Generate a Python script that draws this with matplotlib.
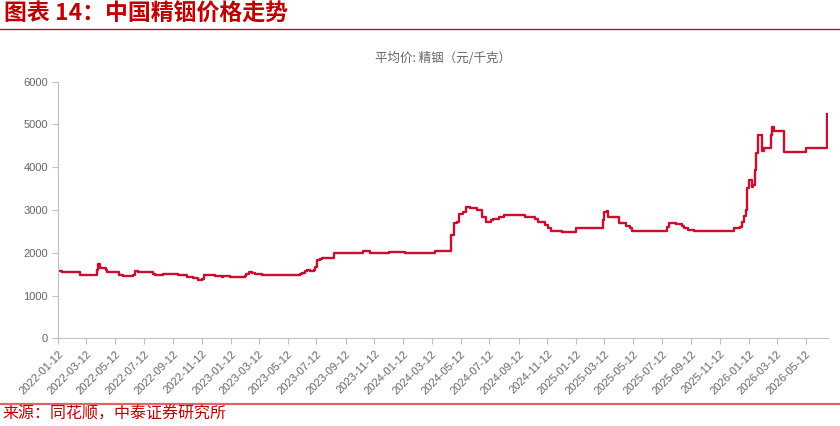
import pandas as pd
import matplotlib.pyplot as plt
import matplotlib.dates as mdates
from matplotlib.lines import Line2D

plt.rcParams['font.family'] = ['Noto Sans CJK SC', 'DejaVu Sans']

# price points (value holds until the next date)
dates = [
    '2022-01-12', '2022-01-19', '2022-02-27', '2022-04-04', '2022-04-07', '2022-04-10',
    '2022-04-23', '2022-04-25', '2022-05-20', '2022-05-29', '2022-06-20', '2022-06-23',
    '2022-06-29', '2022-07-06', '2022-07-11', '2022-08-01', '2022-08-05', '2022-08-19',
    '2022-08-22', '2022-09-23', '2022-10-11', '2022-10-25', '2022-11-04', '2022-11-11',
    '2022-11-16', '2022-11-24', '2022-12-09', '2022-12-24', '2022-12-27', '2023-01-10',
    '2023-02-11', '2023-02-14', '2023-02-20', '2023-02-25', '2023-03-04', '2023-03-18',
    '2023-05-31', '2023-06-07', '2023-06-11', '2023-06-18', '2023-06-22', '2023-06-28',
    '2023-07-06', '2023-07-09', '2023-07-13', '2023-07-20', '2023-07-23', '2023-08-19',
    '2023-10-19', '2023-11-02', '2023-12-13', '2024-01-15', '2024-03-18', '2024-04-21',
    '2024-04-29', '2024-05-04', '2024-05-09', '2024-05-18', '2024-05-23', '2024-05-29',
    '2024-06-01', '2024-06-15', '2024-06-27', '2024-07-05', '2024-07-15', '2024-07-20',
    '2024-08-01', '2024-08-11', '2024-09-25', '2024-10-17', '2024-10-24', '2024-11-07',
    '2024-11-14', '2024-11-19', '2024-12-13', '2025-01-11', '2025-03-09', '2025-03-12',
    '2025-03-17', '2025-03-21', '2025-04-12', '2025-04-28', '2025-05-05', '2025-05-10',
    '2025-07-22', '2025-07-27', '2025-08-02', '2025-08-12', '2025-08-23', '2025-08-28',
    '2025-09-06', '2025-09-17', '2025-11-01', '2025-12-12', '2025-12-24', '2025-12-28',
    '2026-01-02', '2026-01-06', '2026-01-09', '2026-01-13', '2026-01-18', '2026-01-21',
    '2026-01-25', '2026-01-28', '2026-01-31', '2026-02-08', '2026-02-13', '2026-02-28',
    '2026-03-03', '2026-03-06', '2026-03-28', '2026-05-13', '2026-06-27',
]
prices = [
    1580, 1540, 1470, 1600, 1730, 1650,
    1600, 1540, 1470, 1450, 1470, 1570,
    1550, 1560, 1540, 1500, 1470, 1490,
    1500, 1470, 1440, 1400, 1370, 1380,
    1490, 1480, 1460, 1440, 1450, 1430,
    1460, 1500, 1560, 1530, 1500, 1470,
    1480, 1500, 1520, 1580, 1600, 1580,
    1600, 1670, 1830, 1860, 1880, 1990,
    2030, 1990, 2010, 1990, 2040, 2420,
    2690, 2730, 2900, 2960, 3060, 3070,
    3040, 3000, 2830, 2730, 2770, 2800,
    2840, 2880, 2830, 2800, 2730, 2650,
    2590, 2520, 2480, 2590, 2770, 2960,
    2980, 2830, 2690, 2630, 2570, 2510,
    2610, 2690, 2700, 2670, 2630, 2570,
    2540, 2520, 2500, 2570, 2610, 2730,
    2850, 3000, 3510, 3700, 3530, 3590,
    3940, 4330, 4750, 4370, 4440, 4750,
    4950, 4850, 4360, 4440, 5250,
]
tick_dates = pd.date_range('2022-01-01', '2026-05-01', freq='2MS') + pd.Timedelta(days=11)
y_ticks = [0, 1000, 2000, 3000, 4000, 5000, 6000]

red = '#C00000'
line_red = '#C8102E'
grey = '#666666'

fig = plt.figure(figsize=(8.4, 4.26), dpi=100)
ax = fig.add_axes([0.0694, 0.2059, 0.916, 0.6023])

ax.plot(pd.to_datetime(dates), prices, color=line_red, lw=1.7, drawstyle='steps-post')

ax.set_xlim(pd.Timestamp('2022-01-12'), pd.Timestamp('2026-06-28'))
ax.set_ylim(0, 6000)
ax.set_yticks(y_ticks)
ax.set_xticks(tick_dates)
ax.xaxis.set_major_formatter(mdates.DateFormatter('%Y-%m-%d'))
for lab in ax.get_xticklabels():
    lab.set_rotation(45)
    lab.set_ha('right')
    lab.set_rotation_mode('anchor')
ax.tick_params(axis='both', colors='#BFBFBF', labelcolor=grey, labelsize=8, length=4, width=0.8)
for lab in ax.get_xticklabels() + ax.get_yticklabels():
    lab.set_family(['Liberation Sans', 'DejaVu Sans'])

for s in ['top', 'right']:
    ax.spines[s].set_visible(False)
for s in ['left', 'bottom']:
    ax.spines[s].set_color('#BFBFBF')
    ax.spines[s].set_linewidth(0.8)

ax.set_title('平均价: 精铟（元/千克）', fontsize=9, color=grey, pad=14)

# header / footer
fig.text(0.005, 0.966, '图表 14：中国精铟价格走势', fontsize=16.5, fontweight='bold',
         color=red, va='center', ha='left')
fig.add_artist(Line2D([0, 1], [1 - 29 / 426, 1 - 29 / 426], color=red, lw=0.9))
fig.add_artist(Line2D([0, 1], [1 - 404 / 426, 1 - 404 / 426], color='#E06666', lw=1.6))
fig.text(0.003, 1 - 414 / 426, '来源：同花顺，中泰证券研究所', fontsize=11.5,
         color=red, va='center', ha='left')

fig.savefig('out.png', dpi=100)
